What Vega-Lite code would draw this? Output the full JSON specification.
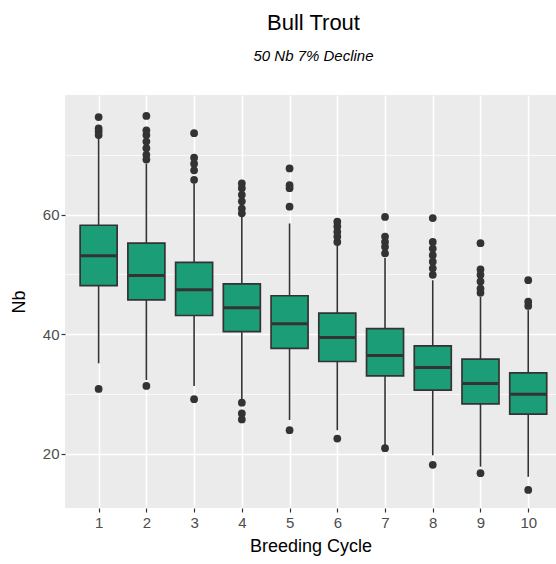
{
  "$schema": "https://vega.github.io/schema/vega-lite/v6.json",
  "autosize": {"type": "none"},
  "padding": {"left": 65, "top": 95, "right": 0, "bottom": 56},
  "width": 491,
  "height": 413,
  "background": "white",
  "config": {
    "font": "Liberation Sans",
    "view": {"stroke": null, "fill": "#EBEBEB"}
  },
  "title": {
    "text": "Bull Trout",
    "subtitle": "50 Nb 7% Decline",
    "anchor": "middle",
    "frame": "group",
    "dx": 3,
    "fontSize": 22,
    "fontWeight": "normal",
    "color": "black",
    "subtitleFontSize": 15,
    "subtitleFontStyle": "italic",
    "subtitleColor": "black",
    "subtitlePadding": 14,
    "offset": 30
  },
  "datasets": {
    "boxes": [
      {"cycle": 1, "lower": 35.1, "q1": 48.1, "median": 53.1, "q3": 58.2, "upper": 72.9},
      {"cycle": 2, "lower": 32.3, "q1": 45.7, "median": 49.8, "q3": 55.2, "upper": 68.5},
      {"cycle": 3, "lower": 31.3, "q1": 43.1, "median": 47.4, "q3": 52.0, "upper": 65.2},
      {"cycle": 4, "lower": 29.0, "q1": 40.4, "median": 44.4, "q3": 48.4, "upper": 59.6},
      {"cycle": 5, "lower": 25.6, "q1": 37.6, "median": 41.7, "q3": 46.4, "upper": 58.5},
      {"cycle": 6, "lower": 23.9, "q1": 35.4, "median": 39.4, "q3": 43.5, "upper": 54.9},
      {"cycle": 7, "lower": 21.1, "q1": 33.0, "median": 36.4, "q3": 40.9, "upper": 52.7},
      {"cycle": 8, "lower": 19.7, "q1": 30.6, "median": 34.4, "q3": 38.0, "upper": 49.0},
      {"cycle": 9, "lower": 17.8, "q1": 28.3, "median": 31.7, "q3": 35.8, "upper": 46.2},
      {"cycle": 10, "lower": 16.1, "q1": 26.6, "median": 29.9, "q3": 33.5, "upper": 44.0}
    ],
    "outliers": [
      {"cycle": 1, "nb": 76.3}, {"cycle": 1, "nb": 74.4}, {"cycle": 1, "nb": 73.9}, {"cycle": 1, "nb": 73.3}, {"cycle": 1, "nb": 30.8},
      {"cycle": 2, "nb": 76.5}, {"cycle": 2, "nb": 74.1}, {"cycle": 2, "nb": 73.3}, {"cycle": 2, "nb": 72.2}, {"cycle": 2, "nb": 71.1}, {"cycle": 2, "nb": 70.0}, {"cycle": 2, "nb": 69.2}, {"cycle": 2, "nb": 31.3},
      {"cycle": 3, "nb": 73.6}, {"cycle": 3, "nb": 69.5}, {"cycle": 3, "nb": 68.5}, {"cycle": 3, "nb": 67.4}, {"cycle": 3, "nb": 65.8}, {"cycle": 3, "nb": 29.1},
      {"cycle": 4, "nb": 65.2}, {"cycle": 4, "nb": 64.4}, {"cycle": 4, "nb": 63.3}, {"cycle": 4, "nb": 62.2}, {"cycle": 4, "nb": 61.0}, {"cycle": 4, "nb": 60.2}, {"cycle": 4, "nb": 28.5}, {"cycle": 4, "nb": 26.7}, {"cycle": 4, "nb": 25.7},
      {"cycle": 5, "nb": 67.7}, {"cycle": 5, "nb": 64.9}, {"cycle": 5, "nb": 64.4}, {"cycle": 5, "nb": 61.3}, {"cycle": 5, "nb": 23.9},
      {"cycle": 6, "nb": 58.8}, {"cycle": 6, "nb": 58.0}, {"cycle": 6, "nb": 57.1}, {"cycle": 6, "nb": 56.3}, {"cycle": 6, "nb": 55.4}, {"cycle": 6, "nb": 22.5},
      {"cycle": 7, "nb": 59.6}, {"cycle": 7, "nb": 56.3}, {"cycle": 7, "nb": 55.4}, {"cycle": 7, "nb": 54.6}, {"cycle": 7, "nb": 53.5}, {"cycle": 7, "nb": 20.9},
      {"cycle": 8, "nb": 59.4}, {"cycle": 8, "nb": 55.4}, {"cycle": 8, "nb": 54.3}, {"cycle": 8, "nb": 53.2}, {"cycle": 8, "nb": 52.1}, {"cycle": 8, "nb": 51.0}, {"cycle": 8, "nb": 49.9}, {"cycle": 8, "nb": 18.1},
      {"cycle": 9, "nb": 55.2}, {"cycle": 9, "nb": 50.8}, {"cycle": 9, "nb": 49.9}, {"cycle": 9, "nb": 48.8}, {"cycle": 9, "nb": 47.6}, {"cycle": 9, "nb": 46.9}, {"cycle": 9, "nb": 16.7},
      {"cycle": 10, "nb": 49.0}, {"cycle": 10, "nb": 45.4}, {"cycle": 10, "nb": 44.7}, {"cycle": 10, "nb": 13.9}
    ]
  },
  "encoding": {
    "x": {
      "field": "cycle",
      "type": "quantitative",
      "scale": {"domain": [0.4, 10.477], "nice": false, "zero": false},
      "axis": {
        "values": [1, 2, 3, 4, 5, 6, 7, 8, 9, 10],
        "format": "d",
        "title": "Breeding Cycle",
        "titleFontSize": 18,
        "titleFontWeight": "normal",
        "titleColor": "black",
        "titlePadding": 7,
        "labelFontSize": 15,
        "labelColor": "#4D4D4D",
        "labelPadding": 3,
        "tickColor": "#333333",
        "tickSize": 4,
        "tickWidth": 1.2,
        "domain": false,
        "grid": true,
        "gridColor": "white",
        "gridWidth": 1.5
      }
    }
  },
  "resolve": {"axis": {"y": "independent"}},
  "layer": [
    {
      "data": {"name": "boxes"},
      "mark": {"type": "rule", "color": "#333333", "strokeWidth": 1.6},
      "encoding": {
        "y": {
          "field": "lower",
          "type": "quantitative",
          "scale": {"domain": [10.88, 80], "nice": false, "zero": false},
          "axis": {
            "orient": "left",
            "values": [20, 40, 60],
            "title": "Nb",
            "titleFontSize": 18,
            "titleFontWeight": "normal",
            "titleColor": "black",
            "titlePadding": 14,
            "labelFontSize": 15,
            "labelColor": "#4D4D4D",
            "labelPadding": 2,
            "tickColor": "#333333",
            "tickSize": 4,
            "tickWidth": 1.2,
            "domain": false,
            "grid": true,
            "gridColor": "white",
            "gridWidth": 1.5
          }
        },
        "y2": {"field": "upper"}
      }
    },
    {
      "data": {"name": "boxes"},
      "mark": {"type": "bar", "width": 37, "fill": "#1B9E77", "stroke": "#333333", "strokeWidth": 1.7},
      "encoding": {
        "y": {"field": "q1", "type": "quantitative", "axis": null},
        "y2": {"field": "q3"}
      }
    },
    {
      "data": {"name": "boxes"},
      "mark": {"type": "tick", "orient": "horizontal", "size": 36, "thickness": 3, "color": "#333333", "opacity": 1},
      "encoding": {
        "y": {"field": "median", "type": "quantitative", "axis": null}
      }
    },
    {
      "data": {"name": "outliers"},
      "mark": {"type": "point", "filled": true, "size": 60, "color": "#333333", "opacity": 1},
      "encoding": {
        "y": {
          "field": "nb",
          "type": "quantitative",
          "axis": {
            "orient": "left",
            "values": [30, 50, 70],
            "title": null,
            "labels": false,
            "ticks": false,
            "domain": false,
            "grid": true,
            "gridColor": "white",
            "gridWidth": 0.7
          }
        }
      }
    }
  ]
}
